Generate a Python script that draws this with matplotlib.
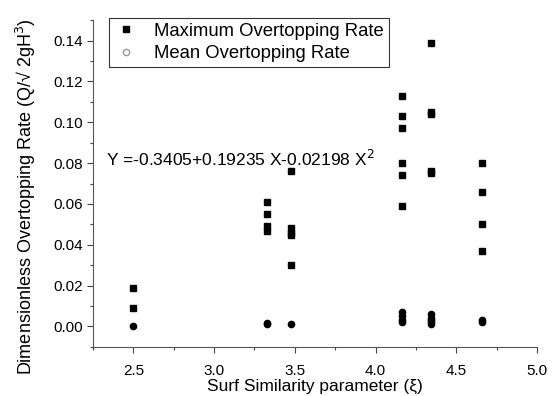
import numpy as np
import matplotlib.pyplot as plt
from matplotlib.ticker import MultipleLocator

plt.rcParams['font.family'] = ['Liberation Sans', 'DejaVu Sans']

# maximum overtopping rate
max_x = [2.5, 2.5,
         3.33, 3.33, 3.33, 3.33,
         3.475, 3.475, 3.475, 3.475, 3.475,
         4.165, 4.165, 4.165, 4.165, 4.165, 4.165,
         4.345, 4.345, 4.345, 4.345, 4.345,
         4.66, 4.66, 4.66, 4.66]
max_y = [0.019, 0.009,
         0.061, 0.055, 0.049, 0.047,
         0.076, 0.048, 0.046, 0.045, 0.030,
         0.113, 0.103, 0.097, 0.080, 0.074, 0.059,
         0.139, 0.105, 0.104, 0.076, 0.075,
         0.080, 0.066, 0.050, 0.037]

# mean overtopping rate
mean_x = [2.5, 3.33, 3.33, 3.475,
          4.165, 4.165, 4.165, 4.165,
          4.345, 4.345, 4.345, 4.345, 4.345,
          4.66, 4.66]
mean_y = [0.000, 0.0015, 0.001, 0.001,
          0.007, 0.005, 0.003, 0.002,
          0.006, 0.004, 0.003, 0.002, 0.001,
          0.003, 0.002]

equation = "Y =-0.3405+0.19235 X-0.02198 X$^2$"

fig = plt.figure(figsize=(5.57, 3.96), dpi=100)
ax = fig.add_axes([0.167, 0.124, 0.797, 0.825])

ax.plot(max_x, max_y, "s", color="black", ms=4.2, label="Maximum Overtopping Rate")
ax.plot(mean_x, mean_y, "o", color="black", ms=4.5, label="Mean Overtopping Rate")

ax.set_xlim(2.25, 5.0)
ax.set_ylim(-0.01, 0.15)
ax.xaxis.set_minor_locator(MultipleLocator(0.25))
ax.yaxis.set_minor_locator(MultipleLocator(0.01))
ax.set_xticks(np.arange(2.5, 5.01, 0.5))
ax.set_xticklabels(["2.5", "3.0", "3.5", "4.0", "4.5", "5.0"])
ax.set_yticks(np.arange(0, 0.141, 0.02))
ax.set_yticklabels(["%.2f" % v for v in np.arange(0, 0.141, 0.02)])
ax.tick_params(which="major", direction="out", length=4, width=0.8, labelsize=11, color="#444444")
ax.tick_params(which="minor", direction="out", length=2.5, width=0.8, color="#444444")
ax.tick_params(axis="x", which="major", pad=8)

for s in ["top", "right"]:
    ax.spines[s].set_visible(False)
for s in ["left", "bottom"]:
    ax.spines[s].set_color("#555555")

ax.set_xlabel("Surf Similarity parameter (\u03be)", fontsize=12.5, labelpad=1)
ax.set_ylabel("Dimensionless Overtopping Rate (Q/\u221a 2gH$^3$)", fontsize=13, labelpad=4)
ax.yaxis.set_label_coords(-0.125, 0.46)

ax.text(2.33, 0.082, equation, fontsize=12.5, va="center")

leg = ax.legend(loc="upper left", bbox_to_anchor=(0.015, 1.035), fontsize=13.3,
                frameon=True, fancybox=False, handletextpad=0.9,
                borderpad=0.25, labelspacing=0.3, handlelength=1.3)
leg.get_frame().set_edgecolor("black")
leg.get_frame().set_linewidth(0.8)
h = leg.legend_handles[1]
h.set_markerfacecolor("white")
h.set_markeredgecolor("#999999")
h.set_linestyle("none")

fig.savefig("out.png", dpi=100)
